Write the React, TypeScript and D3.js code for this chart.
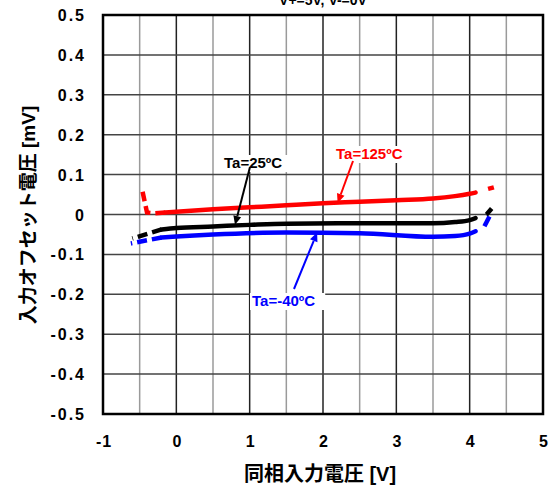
import React from "react";
import * as d3 from "d3";

// Input offset voltage vs. common-mode input voltage, three ambient temperatures
const vcm125 = [-0.46, -0.4, -0.3, -0.15, 0, 0.5, 1, 1.5, 2, 2.5, 3, 3.5, 3.8, 4.0, 4.08, 4.25, 4.33];
const vos125 = [0.057, 0.005, 0.003, 0.005, 0.007, 0.013, 0.018, 0.023, 0.028, 0.032, 0.036, 0.04, 0.046, 0.052, 0.055, 0.064, 0.068];
const vcm25 = [-0.6, -0.2, 0, 0.5, 1, 1.5, 2.5, 3.5, 3.8, 4.0, 4.08, 4.23, 4.3];
const vos25 = [-0.06, -0.0375, -0.034, -0.03, -0.026, -0.023, -0.022, -0.022, -0.019, -0.014, -0.009, 0.0, 0.015];
const vcmM40 = [-0.62, -0.2, 0, 0.5, 1.5, 2.5, 3.5, 3.8, 4.0, 4.08, 4.2, 4.27];
const vosM40 = [-0.0725, -0.0575, -0.055, -0.05, -0.045, -0.047, -0.056, -0.054, -0.048, -0.042, -0.03, -0.005];

// Solid (guaranteed) range per series; outside it the curve is dashed
const solidRange125 = [-0.15, 4.08];
const solidRange25 = [-0.2, 4.08];
const solidRangeM40 = [-0.2, 4.08];

const xTicks = [-1, 0, 1, 2, 3, 4, 5];
const yTicks = [0.5, 0.4, 0.3, 0.2, 0.1, 0, -0.1, -0.2, -0.3, -0.4, -0.5];

const W = 554;
const H = 487;
const left = 103;
const right = 543;
const top = 15;
const bottom = 414;

const x = d3.scaleLinear().domain([-1, 5]).range([left, right]);
const y = d3.scaleLinear().domain([-0.5, 0.5]).range([bottom, top]);

type Pt = [number, number];

function split(xs: number[], ys: number[], range: number[]) {
  const pts: Pt[] = xs.map((v, i) => [v, ys[i]]);
  const leftPart = pts.filter((p) => p[0] <= range[0]).reverse();
  const mid = pts.filter((p) => p[0] >= range[0] && p[0] <= range[1]);
  const rightPart = pts.filter((p) => p[0] >= range[1]).reverse();
  return { leftPart, mid, rightPart };
}

const line = d3
  .line<Pt>()
  .x((d) => x(d[0]))
  .y((d) => y(d[1]))
  .curve(d3.curveMonotoneX);

const lineRaw = d3
  .line<Pt>()
  .x((d) => x(d[0]))
  .y((d) => y(d[1]))
  .curve(d3.curveLinear);

function Series({
  xs,
  ys,
  range,
  color,
  rightDash,
}: {
  xs: number[];
  ys: number[];
  range: number[];
  color: string;
  rightDash: string;
}) {
  const { leftPart, mid, rightPart } = split(xs, ys, range);
  // dashed ends are drawn from the outer tip inward so the gap falls next to the solid part
  const common = { fill: "none", stroke: color, strokeWidth: 4.5 };
  return (
    <g>
      <path d={lineRaw(leftPart) || ""} {...common} strokeDasharray="10,5" />
      <path d={line(mid) || ""} {...common} strokeLinecap="round" />
      <path d={lineRaw(rightPart) || ""} {...common} strokeDasharray={rightDash} />
    </g>
  );
}

function Label({
  text,
  tx,
  ty,
  color,
  from,
  to,
}: {
  text: string;
  tx: number;
  ty: number;
  color: string;
  from: Pt;
  to: Pt;
}) {
  const fx = from[0];
  const fy = from[1];
  const ex = x(to[0]);
  const ey = y(to[1]);
  const ang = Math.atan2(ey - fy, ex - fx);
  const hl = 9;
  const hw = 4;
  const bx = ex - hl * Math.cos(ang);
  const by = ey - hl * Math.sin(ang);
  const p1 = [bx + hw * Math.sin(ang), by - hw * Math.cos(ang)];
  const p2 = [bx - hw * Math.sin(ang), by + hw * Math.cos(ang)];
  const tw = text.length * 8.9;
  return (
    <g>
      <rect x={tx - 2} y={ty - 13} width={tw + 4} height={17} fill="#fff" />
      <text x={tx} y={ty} fill={color} fontSize={15} fontWeight="bold" fontFamily="Liberation Sans, Arial, sans-serif">
        {text}
      </text>
      <line x1={fx} y1={fy} x2={bx} y2={by} stroke={color} strokeWidth={2} />
      <polygon points={`${ex},${ey} ${p1[0]},${p1[1]} ${p2[0]},${p2[1]}`} fill={color} />
    </g>
  );
}

// plain hyphen-minus for negative tick labels
const fmtY = (t: number) => (t === 0 ? "0" : t.toFixed(1));

export default function App() {
  const halfTicks = d3.range(-1, 5.01, 0.5);
  const font = "Liberation Sans, Arial, sans-serif";
  return (
    <svg width={W} height={H} style={{ position: "absolute", left: 0, top: 0 }}>
      <rect x={0} y={0} width={W} height={H} fill="#fff" />
      <text x={323} y={5} textAnchor="middle" fontSize={14} fontWeight="bold" fontFamily={font}>
        V+=5V, V-=0V
      </text>
      {/* vertical grid: half-volt lines lighter */}
      {halfTicks.map((v, i) => (
        <line
          key={"v" + i}
          x1={x(v)}
          x2={x(v)}
          y1={top}
          y2={bottom}
          stroke={Math.abs(v - Math.round(v)) < 1e-9 ? "#222" : "#9a9a9a"}
          strokeWidth={1.5}
        />
      ))}
      {yTicks.map((t) => (
        <line key={"h" + t} x1={left} x2={right} y1={y(t)} y2={y(t)} stroke="#444" strokeWidth={1.5} />
      ))}
      <Series xs={vcm125} ys={vos125} range={solidRange125} color="#ff0000" rightDash="6,20" />
      <Series xs={vcm25} ys={vos25} range={solidRange25} color="#000000" rightDash="8,20" />
      <Series xs={vcmM40} ys={vosM40} range={solidRangeM40} color="#0000ff" rightDash="11,20" />
      <rect x={left} y={top} width={right - left} height={bottom - top} fill="none" stroke="#000" strokeWidth={2.5} />
      {yTicks.map((t) => (
        <text
          key={"yl" + t}
          x={86}
          y={y(t) + 6}
          textAnchor="end"
          fontSize={16}
          fontWeight="bold"
          letterSpacing={2}
          fontFamily={font}
        >
          {fmtY(t)}
        </text>
      ))}
      {xTicks.map((t) => (
        <text
          key={"xl" + t}
          x={x(t) + 1}
          y={447}
          textAnchor="middle"
          fontSize={16}
          fontWeight="bold"
          letterSpacing={1}
          fontFamily={font}
        >
          {t}
        </text>
      ))}
      <Label text="Ta=25ºC" tx={224} ty={168} color="#000" from={[250, 167]} to={[0.8, -0.026]} />
      <Label text="Ta=125ºC" tx={336} ty={159} color="#ff0000" from={[353, 161]} to={[2.2, 0.029]} />
      <Label text="Ta=-40ºC" tx={252} ty={306} color="#0000ff" from={[294, 289]} to={[1.92, -0.045]} />
      <text
        x={320}
        y={481}
        textAnchor="middle"
        fontSize={20}
        fontWeight="bold"
        fontFamily="Liberation Sans, 'Noto Sans CJK JP', sans-serif"
      >
        同相入力電圧 [V]
      </text>
      <text
        transform="translate(35,215) rotate(-90)"
        textAnchor="middle"
        fontSize={19}
        fontWeight="bold"
        fontFamily="Liberation Sans, 'Noto Sans CJK JP', sans-serif"
      >
        入力オフセット電圧 [mV]
      </text>
    </svg>
  );
}
